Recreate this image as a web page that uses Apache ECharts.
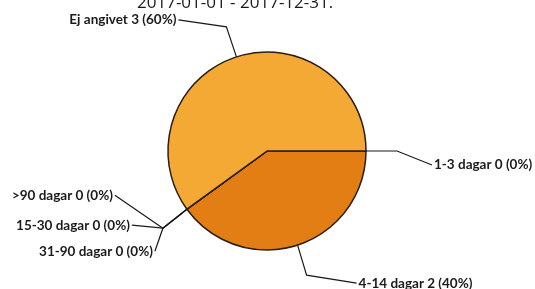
<!DOCTYPE html>
<html>
<head>
<meta charset="utf-8">
<script src="https://cdn.jsdelivr.net/npm/echarts@6/dist/echarts.min.js"></script>
<style>
  html, body { margin: 0; padding: 0; background: #fff; }
  #main { width: 535px; height: 289px; }
</style>
</head>
<body>
<div id="main"></div>
<script>
const titleText = '2017-01-01 - 2017-12-31.';
const categories = ['1-3 dagar', '4-14 dagar', '15-30 dagar', '31-90 dagar', '>90 dagar', 'Ej angivet'];
const counts = [0, 2, 0, 0, 0, 3];
const sliceColors = ['#E37E14', '#E37E14', '#E37E14', '#E37E14', '#E37E14', '#F4A935'];

// leader line bends, relative to where the line leaves the pie edge: [elbow, end]
const leaderOffsets = [
  [[31, 0], [66, 14]],
  [[9, 30], [59, 38]],
  [[-24, 19], [-55, 16]],
  [[-24, 19], [-32, 42]],
  [[-24, 19], [-72, -14]],
  [[-10, -30], [-58, -37]],
];

const myChart = echarts.init(document.getElementById('main'));

const pieData = categories.map((name, i) => ({
  name: name,
  value: counts[i],
  itemStyle: { color: sliceColors[i] },
}));

myChart.setOption({
  animation: false,
  title: {
    text: titleText,
    left: 132,
    top: -10,
    textStyle: {
      fontFamily: 'Open Sans',
      fontSize: 17,
      fontWeight: 400,
      color: '#1a1a1a',
    },
  },
  series: [
    {
      type: 'pie',
      center: [267, 151],
      radius: 99,
      startAngle: 0,
      clockwise: true,
      avoidLabelOverlap: false,
      data: pieData,
      itemStyle: {
        borderColor: '#2b1d14',
        borderWidth: 1.5,
      },
      label: {
        show: true,
        formatter: '{b} {c} ({d}%)',
        fontFamily: 'Lato',
        fontWeight: 700,
        fontSize: 13.5,
        color: '#1e1a1a',
        overflow: 'none',
      },
      labelLine: {
        show: true,
        length: 30,
        length2: 40,
        lineStyle: { color: '#1a1a1a', width: 1.2 },
      },
      labelLayout: function (params) {
        const off = leaderOffsets[params.dataIndex];
        const p0 = params.labelLinePoints[0];
        const p1 = [p0[0] + off[0][0], p0[1] + off[0][1]];
        const p2 = [p0[0] + off[1][0], p0[1] + off[1][1]];
        const toRight = off[1][0] > 0;
        return {
          x: p2[0] + (toRight ? 2 : -2),
          y: p2[1],
          align: toRight ? 'left' : 'right',
          verticalAlign: 'middle',
          labelLinePoints: [p0, p1, p2],
        };
      },
    },
  ],
});
</script>
</body>
</html>
